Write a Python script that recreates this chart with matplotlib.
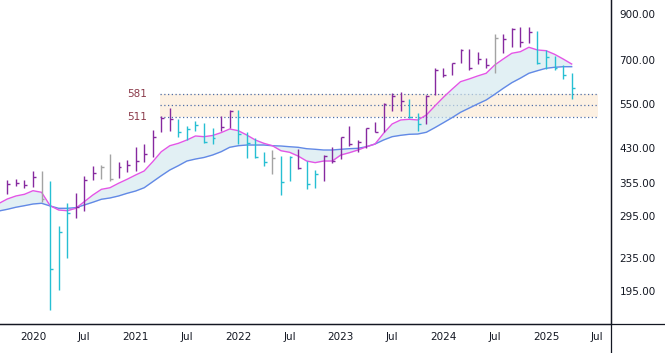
import numpy as np
import pandas as pd
import matplotlib
matplotlib.use("Agg")
import matplotlib.pyplot as plt
from matplotlib.lines import Line2D
from matplotlib.ticker import NullLocator

# monthly HLC bars, Oct 2019 .. Apr 2025
bar_months = pd.period_range("2019-10", "2025-04", freq="M")
highs = [361, 362, 360,
         379, 379, 359, 280, 317, 336, 369, 390, 391, 416, 399, 403,
         434, 439, 476, 515, 538, 505, 487, 500, 495, 482, 514, 531,
         531, 469, 455, 422, 426, 412, 412, 427, 401, 382, 413, 432,
         457, 486, 450, 480, 496, 551, 582, 585, 563, 521, 577, 671,
         671, 687, 743, 743, 730, 707, 806, 807, 834, 839, 838, 822,
         738, 716, 681, 650]
lows = [333, 348, 346,
        347, 320, 176, 196, 235, 292, 304, 361, 363, 358, 364, 376,
        379, 399, 410, 469, 474, 457, 450, 473, 443, 441, 473, 480,
        440, 407, 408, 390, 373, 332, 359, 384, 344, 345, 359, 396,
        405, 436, 422, 431, 470, 471, 527, 527, 507, 474, 491, 577,
        638, 644, 687, 662, 684, 669, 651, 728, 751, 750, 770, 685,
        665, 661, 629, 563]
closes = [352, 355, 350,
          367, 325, 221, 270, 300, 311, 361, 374, 387, 362, 388, 392,
          401, 416, 458, 509, 505, 471, 477, 489, 446, 456, 484, 529,
          465, 442, 410, 399, 408, 356, 410, 386, 352, 372, 412, 400,
          457, 440, 446, 480, 471, 548, 575, 558, 510, 491, 575, 662,
          644, 687, 740, 669, 704, 681, 792, 786, 831, 773, 816, 689,
          712, 669, 643, 601]
# p = up (purple), t = down (teal), g = neutral (grey)
bar_state = ["p", "p", "p",
             "p", "g", "t", "t", "t", "p", "p", "p", "g", "g", "p", "p",
             "p", "p", "p", "p", "p", "t", "t", "t", "t", "t", "p", "p",
             "t", "t", "t", "t", "g", "t", "t", "p", "t", "t", "p", "p",
             "p", "p", "p", "p", "p", "p", "p", "p", "t", "t", "p", "p",
             "p", "p", "p", "p", "p", "p", "g", "p", "p", "p", "p", "t",
             "t", "t", "t", "t"]

# moving averages, Sep 2019 .. Apr 2025
ma_months = pd.period_range("2019-09", "2025-04", freq="M")
ma_fast = [316.8, 324.8, 330.2, 333.3,
           340.0, 337.0, 313.0, 305.6, 304.4, 308.5, 320.0, 332.0, 342.6, 345.6, 354.2, 362.1,
           370.8, 379.1, 399.0, 421.7, 435.9, 441.7, 449.9, 460.0, 458.2, 461.2, 468.5, 478.1,
           473.7, 462.5, 449.9, 441.7, 435.9, 424.0, 420.4, 411.8, 400.6, 397.0, 400.6, 400.6,
           414.1, 419.4, 425.7, 433.5, 440.0, 466.8, 491.5, 502.5, 504.4, 502.5, 516.5, 542.9,
           569.6, 595.3, 620.9, 630.2, 640.8, 650.4, 680.9, 703.9, 726.4, 732.8, 750.9, 739.7,
           736.9, 722.4, 703.9, 684.6]
ma_slow = [303.9, 306.8, 310.3, 313.0,
           315.9, 317.2, 312.5, 308.5, 308.5, 309.6, 314.2, 319.0, 324.3, 326.6, 330.2, 335.1,
           339.4, 345.6, 357.3, 369.4, 381.2, 390.4, 400.6, 405.0, 408.5, 414.1, 421.7, 432.1,
           435.9, 437.6, 437.6, 437.6, 435.9, 435.2, 433.5, 432.1, 428.8, 427.4, 425.7, 425.7,
           427.4, 428.8, 429.7, 433.5, 440.0, 449.9, 458.2, 461.7, 464.3, 465.0, 469.5, 481.7,
           495.0, 508.9, 524.3, 536.5, 549.0, 561.2, 579.1, 598.6, 617.5, 633.1, 650.5, 659.8,
           668.6, 672.3, 674.5, 674.5]

zone_top, zone_mid, zone_bottom = 581, 546, 511
price_ticks = [195, 235, 295, 355, 430, 550, 700, 900]
month_ticks = pd.period_range("2020-01", "2025-07", freq="6M")


def month_pos(periods):
    return np.array([(p.year - 2020) * 12 + p.month - 1 for p in periods], dtype=float)


state_colors = {"p": "#86299F", "t": "#26BFD3", "g": "#A3A3A3"}
text_col = "#131722"

W, H = 665, 353
fig = plt.figure(figsize=(W / 100, H / 100), dpi=100)
ax = fig.add_axes([0, 29 / H, 611 / W, 324 / H])

ax.set_yscale("log")
ax.set_ylim(162.8, 975)
ax.set_xlim(-3.86, 67.6)

# support zone
zx0, zx1 = 14.85, 66.1
ax.fill_between([zx0, zx1], zone_bottom, zone_top, color="#FDF1E3", lw=0, zorder=0.5)
ax.hlines([zone_top, zone_mid, zone_bottom], zx0, zx1, colors="#4F6FA8",
          linestyles=(0, (1, 2)), lw=0.9, zorder=1)
for v in (zone_top, zone_bottom):
    ax.text(13.35, v, str(v), ha="right", va="center", color="#8B3A4A", fontsize=7.5)

# moving averages
mx = month_pos(ma_months)
ax.fill_between(mx, ma_fast, ma_slow, color="#D3E8EF", alpha=0.65, lw=0, zorder=1.5)
ax.plot(mx, ma_slow, color="#6289E6", lw=1.0, zorder=2)
ax.plot(mx, ma_fast, color="#E356E6", lw=1.0, zorder=2.1)

# HLC bars
bx = month_pos(bar_months)
cols = [state_colors[s] for s in bar_state]
ax.vlines(bx, lows, highs, colors=cols, lw=1.0, zorder=3)
ax.hlines(closes, bx, bx + 0.34, colors=cols, lw=1.0, zorder=3)

# axes styling
for s in ("top", "left"):
    ax.spines[s].set_visible(False)
for s in ("right", "bottom"):
    ax.spines[s].set_color(text_col)
    ax.spines[s].set_linewidth(0.9)
fig.add_artist(Line2D([0, 1], [29 / H, 29 / H], transform=fig.transFigure,
                      color=text_col, lw=0.9))
fig.add_artist(Line2D([611 / W, 611 / W], [0, 1], transform=fig.transFigure,
                      color=text_col, lw=0.9))

ax.yaxis.tick_right()
ax.yaxis.set_minor_locator(NullLocator())
ax.set_yticks(price_ticks)
ax.set_yticklabels([f"{v:.2f}" for v in price_ticks])
ax.set_xticks(month_pos(month_ticks))
ax.set_xticklabels([str(p.year) if p.month == 1 else "Jul" for p in month_ticks])
ax.tick_params(axis="y", length=0, pad=6, labelsize=7.5, colors=text_col)
ax.tick_params(axis="x", length=0, pad=6, labelsize=7.5, colors=text_col)

fig.savefig("out.png", dpi=100)
